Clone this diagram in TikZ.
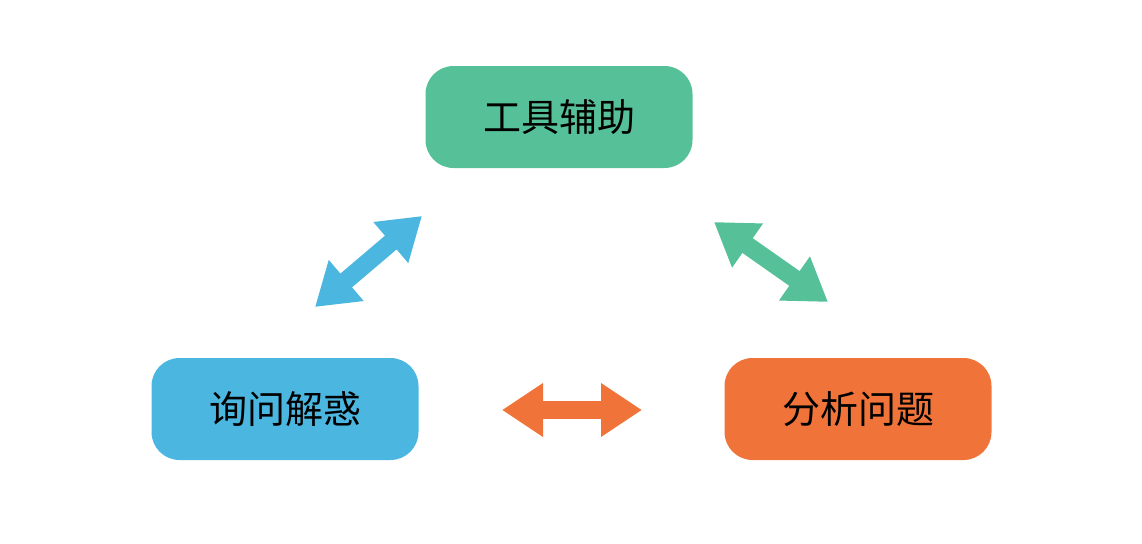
\documentclass[tikz,border=0pt]{standalone}
\usepackage{fontspec}
\newfontfamily\cjk{Noto Sans CJK SC}
\usepackage{xcolor}
\usepackage{tikz}
\usetikzlibrary{positioning,calc,arrows.meta}

\definecolor{toolgreen}{RGB}{86,193,153}
\definecolor{askblue}{RGB}{75,183,224}
\definecolor{probred}{RGB}{240,116,58}

\begin{document}
\begin{tikzpicture}[x=1pt, y=-1pt,
    box/.style={rounded corners=28pt, minimum width=267pt, minimum height=102pt,
        inner sep=0pt, font=\cjk\fontsize{38}{44}\selectfont},
    fat/.style={line width=18pt, {Triangle[length=41pt,width=51pt]}-{Triangle[length=41pt,width=51pt]}}]
    % canvas
    \useasboundingbox (0,0) rectangle (1142,543);
    % Boxes
    \node[box, fill=toolgreen] (tool) at (559,117) {工具辅助};
    \node[box, fill=askblue] (ask) at (285,409) {询问解惑};
    \node[box, fill=probred] (prob) at (858,409) {分析问题};
    % arrow ends
    \coordinate (ask_a) at (315,307);
    \coordinate (ask_b) at (422,216);
    \coordinate (prob_a) at (714,222);
    \coordinate (prob_b) at (828,302);
    \coordinate (mid_a) at (502,410);
    \coordinate (mid_b) at (642,410);
    % Arrows
    \draw[fat, askblue] (ask_a) -- (ask_b);
    \draw[fat, toolgreen] (prob_a) -- (prob_b);
    \draw[fat, probred] (mid_a) -- (mid_b);
\end{tikzpicture}
\end{document}
